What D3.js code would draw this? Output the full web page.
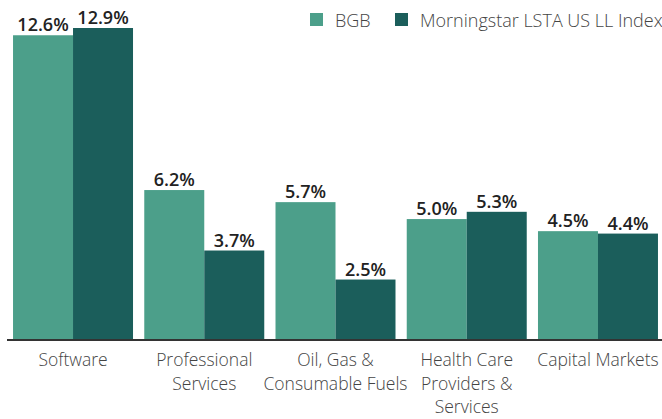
<!DOCTYPE html>
<html>
<head>
<meta charset="utf-8">
<script src="https://cdn.jsdelivr.net/npm/d3@7"></script>
<style>
  html, body { margin: 0; padding: 0; background: #fff; }
  svg { display: block; font-family: "Open Sans", sans-serif; }
</style>
</head>
<body>
<div id="chart"></div>
<script>
const categories = [
  ["Software"],
  ["Professional", "Services"],
  ["Oil, Gas &", "Consumable Fuels"],
  ["Health Care", "Providers &", "Services"],
  ["Capital Markets"]
];
const seriesNames = ["BGB", "Morningstar LSTA US LL Index"];
const bgbValues = [12.6, 6.2, 5.7, 5.0, 4.5];
const indexValues = [12.9, 3.7, 2.5, 5.3, 4.4];
const seriesColors = ["#4c9f8a", "#1b5e5b"];

const width = 662;
const height = 419;
const baseline = 340;

const svg = d3.select("#chart").append("svg")
  .attr("width", width)
  .attr("height", height);

const x0 = d3.scaleBand()
  .domain(d3.range(categories.length))
  .range([7.4, 663.6])
  .paddingInner(0.0857)
  .paddingOuter(0.0429);

const x1 = d3.scaleBand()
  .domain(d3.range(seriesNames.length))
  .range([0, x0.bandwidth()]);

const y = d3.scaleLinear()
  .domain([0, 12.9])
  .range([baseline, 28]);

const rows = categories.map((c, i) => ({ i, values: [bgbValues[i], indexValues[i]] }));

const groups = svg.append("g")
  .selectAll("g")
  .data(rows)
  .join("g")
  .attr("transform", d => `translate(${x0(d.i)},0)`);

groups.selectAll("rect")
  .data(d => d.values.map((v, s) => ({ v, s })))
  .join("rect")
  .attr("x", d => x1(d.s))
  .attr("width", x1.bandwidth())
  .attr("y", d => y(d.v))
  .attr("height", d => baseline - y(d.v))
  .attr("fill", d => seriesColors[d.s]);

groups.selectAll("text.val")
  .data(d => d.values.map((v, s) => ({ v, s })))
  .join("text")
  .attr("class", "val")
  .attr("x", d => x1(d.s) + x1.bandwidth() / 2)
  .attr("y", d => y(d.v) - 4)
  .attr("text-anchor", "middle")
  .attr("font-size", "18px")
  .attr("font-weight", 600)
  .attr("fill", "#222")
  .text(d => d.v.toFixed(1) + "%");

// baseline axis
const xAxis = g => g.attr("transform", `translate(0,${baseline})`)
  .call(d3.axisBottom(x0).tickSize(0).tickFormat(""))
  .call(g => g.select(".domain").attr("stroke", "#333").attr("stroke-width", 2)
    .attr("d", `M7,0H${width}`));
svg.append("g").call(xAxis);

// category labels
svg.append("g")
  .selectAll("text")
  .data(categories)
  .join("text")
  .attr("x", (d, i) => x0(i) + x0.bandwidth() / 2)
  .attr("y", 366)
  .attr("text-anchor", "middle")
  .attr("font-size", "17.5px")
  .attr("font-weight", 300)
  .attr("fill", "#444")
  .selectAll("tspan")
  .data(d => d)
  .join("tspan")
  .attr("x", function () { return this.parentNode.getAttribute("x"); })
  .attr("dy", (d, i) => i === 0 ? 0 : 23.5)
  .text(d => d);

// legend
const legendX = [310, 395];
const legend = svg.append("g")
  .selectAll("g")
  .data(seriesNames)
  .join("g")
  .attr("transform", (d, i) => `translate(${legendX[i]},13)`);
legend.append("rect")
  .attr("width", 13).attr("height", 13)
  .attr("fill", (d, i) => seriesColors[i]);
legend.append("text")
  .attr("x", 25).attr("y", 14)
  .attr("font-size", "18px")
  .attr("font-weight", 300)
  .attr("fill", "#444")
  .text(d => d);
</script>
</body>
</html>
